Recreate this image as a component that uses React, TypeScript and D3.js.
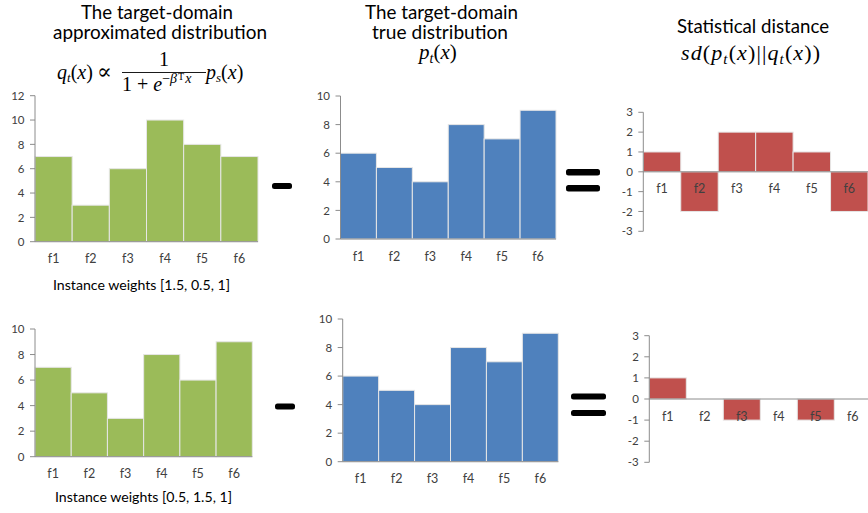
import React from "react";
import * as d3 from "d3";

// Feature categories shared by all six histograms
const categories = ["f1", "f2", "f3", "f4", "f5", "f6"];

// Row 1: weights [1.5, 0.5, 1]
const approxTop = [7, 3, 6, 10, 8, 7];
const trueTop = [6, 5, 4, 8, 7, 9];
const distTop = [1, -2, 2, 2, 1, -2];

// Row 2: weights [0.5, 1.5, 1]
const approxBottom = [7, 5, 3, 8, 6, 9];
const trueBottom = [6, 5, 4, 8, 7, 9];
const distBottom = [1, 0, -1, 0, -1, 0];

// Axis ticks
const ticks12 = [0, 2, 4, 6, 8, 10, 12];
const ticks10 = [0, 2, 4, 6, 8, 10];
const ticksDist = [-3, -2, -1, 0, 1, 2, 3];

const GREEN = "#9BBB59";
const BLUE = "#4F81BD";
const RED = "#C0504D";
const AXIS = "#8C8C8C";
const TEXT = "#404040";
const SANS = "Lato, 'Open Sans', 'DejaVu Sans', sans-serif";
const SERIF = "'Liberation Serif', 'DejaVu Serif', serif";

type PanelProps = {
  values: number[];
  ticks: number[];
  left: number;
  right: number;
  top: number;
  bottom: number;
  color: string;
  clipRight?: number;
};

function BarPanel({ values, ticks, left, right, top, bottom, color, clipRight = 868 }: PanelProps) {
  const x = d3.scaleBand<string>().domain(categories).range([left, right]).padding(0);
  const [lo, hi] = d3.extent(ticks) as [number, number];
  const y = d3.scaleLinear().domain([lo, hi]).range([bottom, top]);
  const y0 = y(0);
  const axisRight = Math.min(right, clipRight);
  return (
    <g>
      {/* bars */}
      {values.map((v, i) => {
        if (v === 0) return null;
        const x0 = x(categories[i])!;
        const w = x.bandwidth();
        const yA = Math.min(y(v), y0);
        const h = Math.abs(y(v) - y0);
        return (
          <rect
            key={i}
            x={x0}
            y={yA}
            width={w}
            height={h}
            fill={color}
            stroke="#E6E6E6"
            strokeWidth={1}
          />
        );
      })}
      {/* value axis */}
      <line x1={left} x2={left} y1={top} y2={bottom} stroke={AXIS} strokeWidth={1} />
      {ticks.map((t) => (
        <g key={t}>
          <line x1={left - 5} x2={left} y1={y(t)} y2={y(t)} stroke={AXIS} strokeWidth={1} />
          <text
            x={left - 10.5}
            y={y(t)}
            dy="0.36em"
            textAnchor="end"
            fontFamily={SANS}
            fontSize={11.5}
            fill={TEXT}
          >
            {t}
          </text>
        </g>
      ))}
      {/* category axis at zero */}
      <line x1={left} x2={axisRight} y1={y0} y2={y0} stroke={AXIS} strokeWidth={1} />
      {categories.map((c) => (
        <text
          key={c}
          x={x(c)! + x.bandwidth() / 2}
          y={y0 + 21.5}
          textAnchor="middle"
          fontFamily={SANS}
          fontSize={12.5}
          fill={TEXT}
        >
          {c}
        </text>
      ))}
    </g>
  );
}

function Title({ x, y, text, width, size = 20 }: { x: number; y: number; text: string; width: number; size?: number }) {
  return (
    <text
      x={x - width / 2}
      y={y}
      fontFamily={SANS}
      fontSize={size}
      fill="#000"
      textLength={width}
      lengthAdjust="spacingAndGlyphs"
    >
      {text}
    </text>
  );
}

function Bar({ x, y, w, h }: { x: number; y: number; w: number; h: number }) {
  return <rect x={x} y={y} width={w} height={h} rx={2.5} fill="#000" />;
}

export default function App() {
  return (
    <svg
      width={868}
      height={513}
      style={{ position: "absolute", left: 0, top: 0, display: "block", background: "#fff" }}
    >
      <rect width={868} height={513} fill="#fff" />

      {/* Column headings */}
      <Title x={157} y={18.5} text="The target-domain" width={152} size={19} />
      <Title x={160} y={39} text="approximated distribution" width={214} size={19} />
      <Title x={441.5} y={18.5} text="The target-domain" width={153} size={19} />
      <Title x={440} y={38.5} text="true distribution" width={136} size={19} />
      <Title x={753} y={32.5} text="Statistical distance" width={152} size={19} />

      {/* q_t(x) ∝ 1 / (1 + e^{-β^T x}) p_s(x) */}
      <g fontFamily={SERIF} fill="#000">
        <text x={57} y={79} fontSize={20}>
          <tspan fontStyle="italic">q</tspan>
          <tspan fontStyle="italic" fontSize={13} dy={3}>t</tspan>
          <tspan dy={-3}>(</tspan>
          <tspan fontStyle="italic">x</tspan>
          <tspan>)</tspan>
        </text>
        <text x={97} y={79} fontSize={22} fontFamily="'DejaVu Serif', serif">∝</text>
        <text x={164} y={66} fontSize={20} textAnchor="middle">1</text>
        <line x1={122} x2={206} y1={72.5} y2={72.5} stroke="#000" strokeWidth={0.9} />
        <text x={122} y={91} fontSize={20}>
          <tspan>1</tspan>
          <tspan dx={5}>+</tspan>
          <tspan dx={5} fontStyle="italic">e</tspan>
          <tspan fontSize={14} dy={-8}>−</tspan>
          <tspan fontSize={14} fontStyle="italic">β</tspan>
          <tspan fontSize={10} dx={1} dy={-3}>T</tspan>
          <tspan fontSize={14} fontStyle="italic" dx={1} dy={3}>x</tspan>
        </text>
        <text x={206} y={79} fontSize={20}>
          <tspan fontStyle="italic">p</tspan>
          <tspan fontStyle="italic" fontSize={13} dy={3}>s</tspan>
          <tspan dy={-3}>(</tspan>
          <tspan fontStyle="italic">x</tspan>
          <tspan>)</tspan>
        </text>

        {/* p_t(x) */}
        <text x={419} y={59} fontSize={21}>
          <tspan fontStyle="italic">p</tspan>
          <tspan fontStyle="italic" fontSize={14} dy={4}>t</tspan>
          <tspan dy={-4}>(</tspan>
          <tspan fontStyle="italic">x</tspan>
          <tspan>)</tspan>
        </text>

        {/* sd(p_t(x) || q_t(x)) */}
        <text x={681} y={60} fontSize={22} textLength={139} lengthAdjust="spacing">
          <tspan fontStyle="italic">sd</tspan>
          <tspan>(</tspan>
          <tspan fontStyle="italic">p</tspan>
          <tspan fontStyle="italic" fontSize={15} dy={4}>t</tspan>
          <tspan dy={-4}>(</tspan>
          <tspan fontStyle="italic">x</tspan>
          <tspan>)||</tspan>
          <tspan fontStyle="italic">q</tspan>
          <tspan fontStyle="italic" fontSize={15} dy={4}>t</tspan>
          <tspan dy={-4}>(</tspan>
          <tspan fontStyle="italic">x</tspan>
          <tspan>))</tspan>
        </text>
      </g>

      {/* Row 1 */}
      <BarPanel values={approxTop} ticks={ticks12} left={35} right={258} top={95.7} bottom={241.7} color={GREEN} />
      <BarPanel values={trueTop} ticks={ticks10} left={340.5} right={556} top={96} bottom={239} color={BLUE} />
      <BarPanel values={distTop} ticks={ticksDist} left={643.3} right={868} top={112.3} bottom={231.3} color={RED} />
      <text x={141.5} y={289.5} textAnchor="middle" fontFamily={SANS} fontSize={14} fill="#000" textLength={177} lengthAdjust="spacingAndGlyphs">
        Instance weights [1.5, 0.5, 1]
      </text>

      {/* Row 2 */}
      <BarPanel values={approxBottom} ticks={ticks10} left={35} right={252.3} top={329} bottom={456.7} color={GREEN} />
      <BarPanel values={trueBottom} ticks={ticks10} left={342.7} right={558.3} top={319} bottom={461.7} color={BLUE} />
      <BarPanel values={distBottom} ticks={ticksDist} left={649.3} right={871.3} top={335.7} bottom={462.3} color={RED} />
      <text x={143.5} y={502} textAnchor="middle" fontFamily={SANS} fontSize={14} fill="#000" textLength={177} lengthAdjust="spacingAndGlyphs">
        Instance weights [0.5, 1.5, 1]
      </text>

      {/* Operators between the panels */}
      <Bar x={272} y={183} w={20} h={6} />
      <Bar x={566} y={169} w={34} h={6.5} />
      <Bar x={566} y={185} w={34} h={6.5} />
      <Bar x={275} y={403.5} w={20} h={6} />
      <Bar x={571} y={393.5} w={35} h={6} />
      <Bar x={571} y={410} w={35} h={6} />
    </svg>
  );
}
